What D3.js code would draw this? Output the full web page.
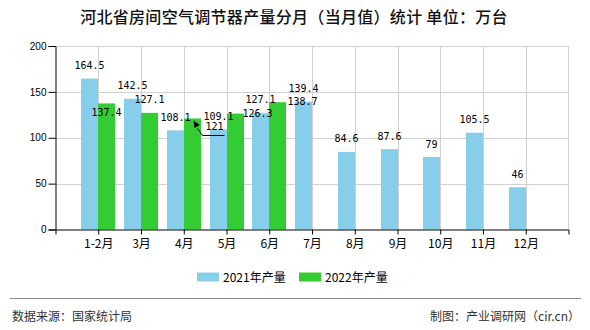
<!DOCTYPE html>
<html>
<head>
<meta charset="utf-8">
<script src="https://cdn.jsdelivr.net/npm/d3@7/dist/d3.min.js"></script>
<style>
  html, body { margin: 0; padding: 0; background: #fff; }
  svg { display: block; }
</style>
</head>
<body>
<div id="chart"></div>
<script>
// ---- data ----
const categories = ["1-2月", "3月", "4月", "5月", "6月", "7月", "8月", "9月", "10月", "11月", "12月"];
const values2021 = [164.5, 142.5, 108.1, 109.1, 127.1, 139.4, 84.6, 87.6, 79, 105.5, 46];
const values2022 = [137.4, 127.1, 121, 126.3, 138.7, null, null, null, null, null, null];
const seriesNames = ["2021年产量", "2022年产量"];
const yTicks = [0, 50, 100, 150, 200];
const titleText = "河北省房间空气调节器产量分月（当月值）统计  单位：万台";
const sourceText = "数据来源：国家统计局";
const creditText = "制图：产业调研网（cir.cn）";

// label displacement (layout only, from the original's label placement)
const labelNudge = {
  "2022|1-2月": { dx: 0, dy: 22 },
  "2022|4月": { dx: 22, dy: 21, leader: true },
  "2022|5月": { dx: 22, dy: 12.5 },
  "2022|6月": { dx: 25, dy: 12 }
};

const W = 590, H = 330;
const colors = ["#87CEEB", "#33CC33"];
const plot = { left: 55.5, right: 568.5, top: 46, bottom: 229.5 };
const barW = 17;

const svg = d3.select("#chart").append("svg").attr("width", W).attr("height", H);

const x = d3.scalePoint().domain(categories).range([plot.left, plot.right]).padding(1);
const y = d3.scaleLinear().domain([0, 200]).range([plot.bottom, plot.top]);

// title
svg.append("text")
  .attr("x", 294).attr("y", 23)
  .attr("text-anchor", "middle")
  .attr("font-family", "'Noto Sans CJK SC', sans-serif")
  .attr("font-size", 16).attr("font-weight", 500)
  .attr("letter-spacing", 0.3)
  .attr("fill", "#111")
  .text(titleText);

// grid lines
const grid = svg.append("g").attr("stroke", "#d0d0d0").attr("stroke-width", 1);
yTicks.filter(d => d > 0).forEach(t => {
  grid.append("line").attr("x1", plot.left).attr("x2", plot.right)
    .attr("y1", Math.round(y(t)) + 0.5).attr("y2", Math.round(y(t)) + 0.5);
});
categories.forEach(c => {
  const xx = Math.round(x(c)) + 0.5;
  grid.append("line").attr("x1", xx).attr("x2", xx).attr("y1", plot.top).attr("y2", plot.bottom);
});
grid.append("line").attr("x1", plot.right).attr("x2", plot.right).attr("y1", plot.top).attr("y2", plot.bottom);

// bars
const bars = svg.append("g");
categories.forEach((c, i) => {
  const cx = Math.round(x(c));
  const v1 = values2021[i];
  if (v1 != null) {
    bars.append("rect").attr("x", cx - barW).attr("width", barW)
      .attr("y", y(v1)).attr("height", y(0) - y(v1)).attr("fill", colors[0]);
  }
  const v2 = values2022[i];
  if (v2 != null) {
    bars.append("rect").attr("x", cx).attr("width", barW)
      .attr("y", y(v2)).attr("height", y(0) - y(v2)).attr("fill", colors[1]);
  }
});

// axes
const yAxis = d3.axisLeft(y).tickValues(yTicks).tickSize(7).tickPadding(2);
const gy = svg.append("g").attr("transform", `translate(${plot.left},0)`).call(yAxis);
gy.select(".domain").attr("stroke", "#000");
gy.selectAll(".tick line").attr("stroke", "#000");
gy.selectAll(".tick text").attr("font-family", "'Liberation Sans', Arial, sans-serif")
  .attr("font-size", 10).attr("fill", "#000");

const xAxis = d3.axisBottom(x).tickSize(5).tickSizeOuter(5).tickPadding(5);
const gx = svg.append("g").attr("transform", `translate(0,${plot.bottom})`).call(xAxis);
gx.select(".domain").attr("stroke", "#000");
gx.selectAll(".tick line").attr("stroke", "#000");
gx.selectAll(".tick text").attr("font-family", "'Noto Sans CJK SC', sans-serif")
  .attr("font-size", 12).attr("fill", "#000");

// value labels
const labels = svg.append("g")
  .attr("font-family", "'DejaVu Sans Mono', monospace")
  .attr("font-size", 10).attr("fill", "#000").attr("text-anchor", "middle");
function addLabel(series, c, v, side) {
  if (v == null) return;
  const bx = Math.round(x(c)) + side * barW / 2;
  const by = y(v);
  const n = labelNudge[series + "|" + c] || { dx: 0, dy: 0 };
  const lx = bx + n.dx, ly = by - 9.5 + n.dy;
  labels.append("text").attr("x", lx).attr("y", ly).text(v);
  if (n.leader) {
    const tipX = bx + 1, tipY = by + 2;
    const lineY = ly + 5.5;
    const elbowX = lx - 12;
    svg.append("path")
      .attr("d", `M${lx + 10},${lineY}L${elbowX},${lineY}L${tipX + 4},${tipY + 8}`)
      .attr("fill", "none").attr("stroke", "#000").attr("stroke-width", 1);
    const ang = Math.atan2(tipY - lineY, tipX - elbowX);
    const len = 7, wid = 3;
    const bx2 = tipX - len * Math.cos(ang), by2 = tipY - len * Math.sin(ang);
    const px = -Math.sin(ang) * wid, py = Math.cos(ang) * wid;
    svg.append("path")
      .attr("d", `M${tipX},${tipY}L${bx2 + px},${by2 + py}L${bx2 - px},${by2 - py}Z`)
      .attr("fill", "#000");
  }
}
categories.forEach((c, i) => {
  addLabel("2021", c, values2021[i], -1);
  addLabel("2022", c, values2022[i], 1);
});

// legend
const legend = svg.append("g").attr("font-family", "'Noto Sans CJK SC', sans-serif").attr("font-size", 12);
const legendX = [197, 299];
seriesNames.forEach((s, i) => {
  legend.append("rect").attr("x", legendX[i]).attr("y", 272.5).attr("width", 22).attr("height", 9).attr("fill", colors[i]);
  legend.append("text").attr("x", legendX[i] + 26).attr("y", 281.5).attr("fill", "#000").text(s);
});

// footer
svg.append("line").attr("x1", 10).attr("x2", 581).attr("y1", 298.5).attr("y2", 298.5)
  .attr("stroke", "#888").attr("stroke-width", 1);
svg.append("text").attr("x", 12).attr("y", 321)
  .attr("font-family", "'Noto Sans CJK SC', sans-serif").attr("font-size", 12).attr("fill", "#333")
  .text(sourceText);
svg.append("text").attr("x", 580).attr("y", 321).attr("text-anchor", "end")
  .attr("font-family", "'Noto Sans CJK SC', sans-serif").attr("font-size", 12).attr("fill", "#333")
  .text(creditText);
</script>
</body>
</html>
